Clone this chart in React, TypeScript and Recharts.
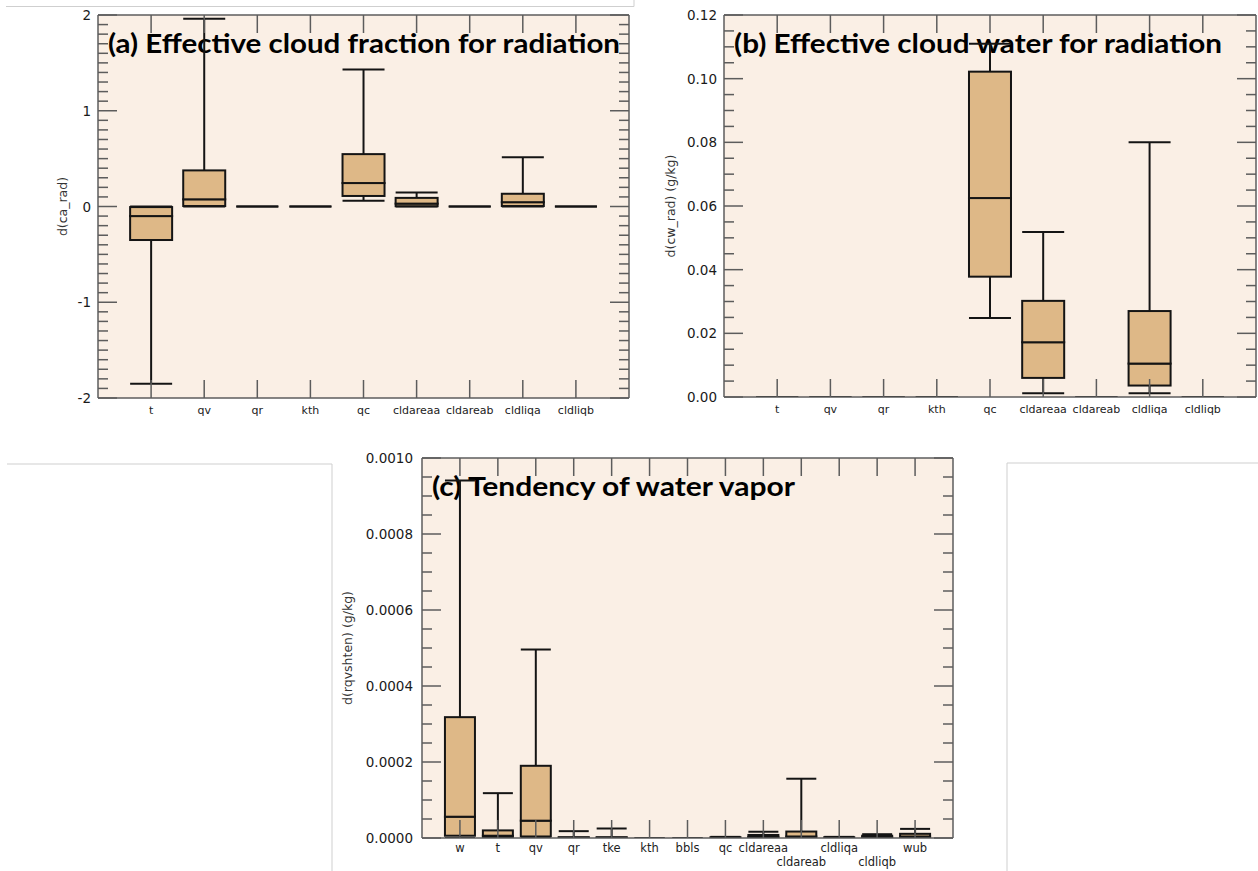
import React from 'react';
import { ComposedChart, Bar, Line, XAxis, YAxis, CartesianGrid, Customized, LabelList } from 'recharts';

// ---------- categories ----------
const catsRad = ['t', 'qv', 'qr', 'kth', 'qc', 'cldareaa', 'cldareab', 'cldliqa', 'cldliqb'];
const catsVap = ['w', 't', 'qv', 'qr', 'tke', 'kth', 'bbls', 'qc', 'cldareaa', 'cldareab', 'cldliqa', 'cldliqb', 'wub'];

// ---------- (a) d(ca_rad) box statistics ----------
const caMin = [-1.85, 0, 0, 0, 0.06, 0, 0, 0, 0];
const caQ1 = [-0.35, 0.005, 0, 0, 0.11, 0.003, 0, 0.005, 0];
const caMed = [-0.1, 0.075, 0, 0, 0.245, 0.03, 0, 0.045, 0];
const caQ3 = [-0.006, 0.377, 0, 0, 0.547, 0.09, 0, 0.133, 0];
const caMax = [0, 1.96, 0, 0, 1.43, 0.147, 0, 0.515, 0];

// ---------- (b) d(cw_rad) box statistics ----------
const cwMin = [0, 0, 0, 0, 0.0248, 0.0012, 0, 0.0012, 0];
const cwQ1 = [0, 0, 0, 0, 0.0378, 0.006, 0, 0.0036, 0];
const cwMed = [0, 0, 0, 0, 0.0625, 0.0172, 0, 0.0105, 0];
const cwQ3 = [0, 0, 0, 0, 0.1022, 0.0302, 0, 0.027, 0];
const cwMax = [0, 0, 0, 0, 0.111, 0.0518, 0, 0.08, 0];

// ---------- (c) d(rqvshten) box statistics ----------
const rqMin = [0, 0, 0, 0, 0, 0, 0, 0, 0, 0, 0, 0, 0];
const rqQ1 = [0.000006, 0.000001, 0.000004, 0, 0, 0, 0, 0.000001, 0.000001, 0.000001, 0.000001, 0.000001, 0.000001];
const rqMed = [0.000056, 0.000006, 0.0000456, 0.000001, 0.000001, 0, 0, 0.000002, 0.000003, 0.000004, 0.000002, 0.000002, 0.000004];
const rqQ3 = [0.000318, 0.00002, 0.00019, 0.000002, 0.000002, 0, 0, 0.000002, 0.000008, 0.000017, 0.000002, 0.000006, 0.000011];
const rqMax = [0.000941, 0.000118, 0.000496, 0.000018, 0.000025, 0, 0, 0.000003, 0.0000165, 0.000156, 0.000003, 0.00001, 0.000024];

// ---------- axis ticks ----------
const caTicks = [-2, -1, 0, 1, 2];
const cwTicks = [0, 0.02, 0.04, 0.06, 0.08, 0.1, 0.12];
const rqTicks = [0, 0.0002, 0.0004, 0.0006, 0.0008, 0.001];

// ---------- styling ----------
const INK = '#141414';
const FRAME = '#5c5c5c';
const BOX_FILL = '#DEB887';
const PLOT_BG = '#FAEFE5';
const TICK_FONT = '"DejaVu Sans", sans-serif';

type Row = {
  name: string;
  base: number;
  lowW: number;
  boxLo: number;
  boxHi: number;
  highW: number;
  med: number;
};

function buildRows(cats: string[], mn: number[], q1: number[], md: number[], q3: number[], mx: number[]): Row[] {
  return cats.map((name, i) => ({
    name,
    base: mn[i],
    lowW: q1[i] - mn[i],
    boxLo: md[i] - q1[i],
    boxHi: q3[i] - md[i],
    highW: mx[i] - q3[i],
    med: md[i],
  }));
}

function withMinors(lo: number, hi: number, step: number): number[] {
  const out: number[] = [];
  const n = Math.round((hi - lo) / step);
  for (let k = 0; k <= n; k++) out.push(Number((lo + k * step).toPrecision(10)));
  return out;
}

// ---------- box-plot pieces drawn on stacked bar segments ----------
const HiddenBase = () => <g />;

const LowerWhisker = (p: any) => {
  const { x, y, width, height } = p;
  const cx = x + width / 2;
  const yb = y + height;
  return (
    <g>
      <line x1={cx} x2={cx} y1={y} y2={yb} stroke={INK} strokeWidth={2} />
      <line x1={x} x2={x + width} y1={yb} y2={yb} stroke={INK} strokeWidth={2} />
    </g>
  );
};

const BoxPart = (p: any) => {
  const { x, y, width, height } = p;
  if (!(height > 0)) return <g />;
  return <rect x={x} y={y} width={width} height={height} fill={BOX_FILL} stroke={INK} strokeWidth={2} />;
};

const UpperWhisker = (p: any) => {
  const { x, y, width, height } = p;
  const cx = x + width / 2;
  return (
    <g>
      <line x1={cx} x2={cx} y1={y + height} y2={y} stroke={INK} strokeWidth={2} />
      <line x1={x} x2={x + width} y1={y} y2={y} stroke={INK} strokeWidth={2} />
    </g>
  );
};

// ---------- category labels under each box ----------
const GLYPH: Record<string, number> = {
  a: 0.613, b: 0.635, c: 0.55, d: 0.635, e: 0.615, h: 0.634, i: 0.278, k: 0.579,
  l: 0.278, q: 0.635, r: 0.411, s: 0.521, t: 0.392, u: 0.634, v: 0.592, w: 0.818,
};
const textWidth = (s: string, size: number) => s.split('').reduce((acc, ch) => acc + (GLYPH[ch] ?? 0.6), 0) * size;

const BottomTick = (props: any) => {
  const { x, y } = props;
  return <line x1={x} x2={x} y1={y} y2={y - 18} stroke={FRAME} strokeWidth={1.5} />;
};

const TopTick = (props: any) => {
  const { x, y } = props;
  return <line x1={x} x2={x} y1={y} y2={y + 18} stroke={FRAME} strokeWidth={1.5} />;
};

const isMajor = (majors: number[], v: number) => majors.some((m) => Math.abs(m - v) < 1e-12 + Math.abs(m) * 1e-9);

const makeLeftTick = (majors: number[], decimals: number, gap: number) => (props: any) => {
  const { x, y, payload } = props;
  const v = Number(payload.value);
  const major = isMajor(majors, v);
  return (
    <g>
      <line x1={x} x2={x + (major ? 19 : 10)} y1={y} y2={y} stroke={FRAME} strokeWidth={1.5} />
      {major && (
        <text x={x - gap} y={y} textAnchor="end" dominantBaseline="central" fontSize={13.5} fontFamily={TICK_FONT} fill="#1a1a1a">
          {v.toFixed(decimals)}
        </text>
      )}
    </g>
  );
};

const makeRightTick = (majors: number[]) => (props: any) => {
  const { x, y, payload } = props;
  const major = isMajor(majors, Number(payload.value));
  return <line x1={x} x2={x - (major ? 19 : 10)} y1={y} y2={y} stroke={FRAME} strokeWidth={1.5} />;
};

// ---------- one panel ----------
type PanelProps = {
  rows: Row[];
  majors: number[];
  minorStep: number;
  decimals: number;
  title: string;
  titleLength: number;
  yTitle: string;
  yTitleOffset: number;
  labelGap: number;
  catFont: number;
  catRow1: number;
  catRow2: number;
  left: number;
  top: number;
  plotW: number;
  plotH: number;
};

const LEFT_W = 100;
const TOP_H = 15;
const BOTTOM_H = 65;
const RIGHT_W = 2;

function BoxPanel(p: PanelProps) {
  const lo = p.majors[0];
  const hi = p.majors[p.majors.length - 1];
  const allTicks = withMinors(lo, hi, p.minorStep);
  const band = p.plotW / (p.rows.length + 1);
  const pad = band / 2;
  const width = LEFT_W + p.plotW + RIGHT_W;
  const height = TOP_H + p.plotH + BOTTOM_H;
  const axisY = TOP_H + p.plotH;

  const Titles = () => (
    <g>
      <text
        x={LEFT_W + 10}
        y={TOP_H + 38}
        fontFamily="Lato, 'Open Sans', sans-serif"
        fontWeight={700}
        fontSize={27}
        fill="#000"
        textLength={p.titleLength}
        lengthAdjust="spacingAndGlyphs"
      >
        {p.title}
      </text>
      <text
        x={LEFT_W - p.yTitleOffset}
        y={TOP_H + p.plotH / 2}
        transform={`rotate(-90 ${LEFT_W - p.yTitleOffset} ${TOP_H + p.plotH / 2})`}
        textAnchor="middle"
        dominantBaseline="central"
        fontFamily={TICK_FONT}
        fontSize={12.5}
        fill="#333"
      >
        {p.yTitle}
      </text>
    </g>
  );

  // labels too wide for their slot alternate between two rows so neighbours never collide
  const catLabel = (lp: any) => {
    const { x, width: bw, value, index } = lp;
    const label = String(value);
    const cx = Number(x) + Number(bw) / 2;
    const wide = textWidth(label, p.catFont) > band * 0.95;
    const row = wide && index % 2 === 1 ? p.catRow2 : p.catRow1;
    return (
      <text
        key={`cat-${index}`}
        x={cx}
        y={axisY + row}
        textAnchor="middle"
        dominantBaseline="central"
        fontSize={p.catFont}
        fontFamily={TICK_FONT}
        fill="#222"
      >
        {label}
      </text>
    );
  };

  return (
    <div style={{ position: 'absolute', left: p.left - LEFT_W, top: p.top - TOP_H }}>
      <ComposedChart
        width={width}
        height={height}
        data={p.rows}
        margin={{ top: 10, right: 0, bottom: 5, left: 0 }}
        barCategoryGap="10.5%"
      >
        <CartesianGrid xAxisId="bottom" yAxisId="left" horizontal={false} vertical={false} fill={PLOT_BG} stroke="none" />
        <XAxis
          xAxisId="bottom"
          dataKey="name"
          type="category"
          orientation="bottom"
          height={60}
          padding={{ left: pad, right: pad }}
          interval={0}
          tickLine={false}
          tickSize={0}
          tickMargin={0}
          axisLine={{ stroke: FRAME, strokeWidth: 1.5 }}
          tick={BottomTick}
        />
        <XAxis
          xAxisId="top"
          dataKey="name"
          type="category"
          orientation="top"
          height={5}
          padding={{ left: pad, right: pad }}
          interval={0}
          tickLine={false}
          tickSize={0}
          tickMargin={0}
          axisLine={{ stroke: FRAME, strokeWidth: 1.5 }}
          tick={TopTick}
        />
        <YAxis
          yAxisId="left"
          type="number"
          orientation="left"
          width={LEFT_W}
          domain={[lo, hi]}
          allowDataOverflow
          ticks={allTicks}
          interval={0}
          tickLine={false}
          tickSize={0}
          tickMargin={0}
          axisLine={{ stroke: FRAME, strokeWidth: 1.5 }}
          tick={makeLeftTick(p.majors, p.decimals, p.labelGap)}
        />
        <YAxis
          yAxisId="right"
          type="number"
          orientation="right"
          width={RIGHT_W}
          domain={[lo, hi]}
          allowDataOverflow
          ticks={allTicks}
          interval={0}
          tickLine={false}
          tickSize={0}
          tickMargin={0}
          axisLine={{ stroke: FRAME, strokeWidth: 1.5 }}
          tick={makeRightTick(p.majors)}
        />
        <Bar xAxisId="bottom" yAxisId="left" stackId="box" dataKey="base" shape={HiddenBase} isAnimationActive={false}>
          <LabelList dataKey="name" content={catLabel} />
        </Bar>
        <Bar xAxisId="bottom" yAxisId="left" stackId="box" dataKey="lowW" shape={LowerWhisker} isAnimationActive={false} />
        <Bar xAxisId="bottom" yAxisId="left" stackId="box" dataKey="boxLo" shape={BoxPart} isAnimationActive={false} />
        <Bar xAxisId="bottom" yAxisId="left" stackId="box" dataKey="boxHi" shape={BoxPart} isAnimationActive={false} />
        <Bar xAxisId="bottom" yAxisId="left" stackId="box" dataKey="highW" shape={UpperWhisker} isAnimationActive={false} />
        <Line
          xAxisId="top"
          yAxisId="right"
          dataKey="med"
          stroke="none"
          dot={false}
          activeDot={false}
          isAnimationActive={false}
        />
        <Customized component={Titles} />
      </ComposedChart>
    </div>
  );
}

const rowsCa = buildRows(catsRad, caMin, caQ1, caMed, caQ3, caMax);
const rowsCw = buildRows(catsRad, cwMin, cwQ1, cwMed, cwQ3, cwMax);
const rowsRq = buildRows(catsVap, rqMin, rqQ1, rqMed, rqQ3, rqMax);

export default function App() {
  return (
    <div style={{ position: 'absolute', left: 0, top: 0, width: 1258, height: 871, overflow: 'hidden', background: '#fff' }}>
      <svg width={1258} height={871} style={{ position: 'absolute', left: 0, top: 0 }}>
        <g stroke="#cfcfcf" strokeWidth={1} fill="none">
          <polyline points="6,6.5 634,6.5 634,0" />
          <polyline points="7,464 332,464 332,871" />
          <polyline points="1258,463 1007,463 1007,871" />
        </g>
      </svg>
      <BoxPanel
        rows={rowsCa}
        majors={caTicks}
        minorStep={0.1}
        decimals={0}
        title="(a) Effective cloud fraction for radiation"
        titleLength={512}
        yTitle="d(ca_rad)"
        yTitleOffset={36}
        labelGap={7}
        catFont={11}
        catRow1={12}
        catRow2={12}
        left={98}
        top={15}
        plotW={531}
        plotH={383}
      />
      <BoxPanel
        rows={rowsCw}
        majors={cwTicks}
        minorStep={0.005}
        decimals={2}
        title="(b) Effective cloud water for radiation"
        titleLength={488}
        yTitle="d(cw_rad) (g/kg)"
        yTitleOffset={54}
        labelGap={7}
        catFont={11}
        catRow1={12}
        catRow2={12}
        left={724}
        top={15}
        plotW={532}
        plotH={382}
      />
      <BoxPanel
        rows={rowsRq}
        majors={rqTicks}
        minorStep={0.00005}
        decimals={4}
        title="(c) Tendency of water vapor"
        titleLength={363}
        yTitle="d(rqvshten) (g/kg)"
        yTitleOffset={75}
        labelGap={9}
        catFont={11.5}
        catRow1={10}
        catRow2={24}
        left={422}
        top={458}
        plotW={531}
        plotH={380}
      />
    </div>
  );
}
